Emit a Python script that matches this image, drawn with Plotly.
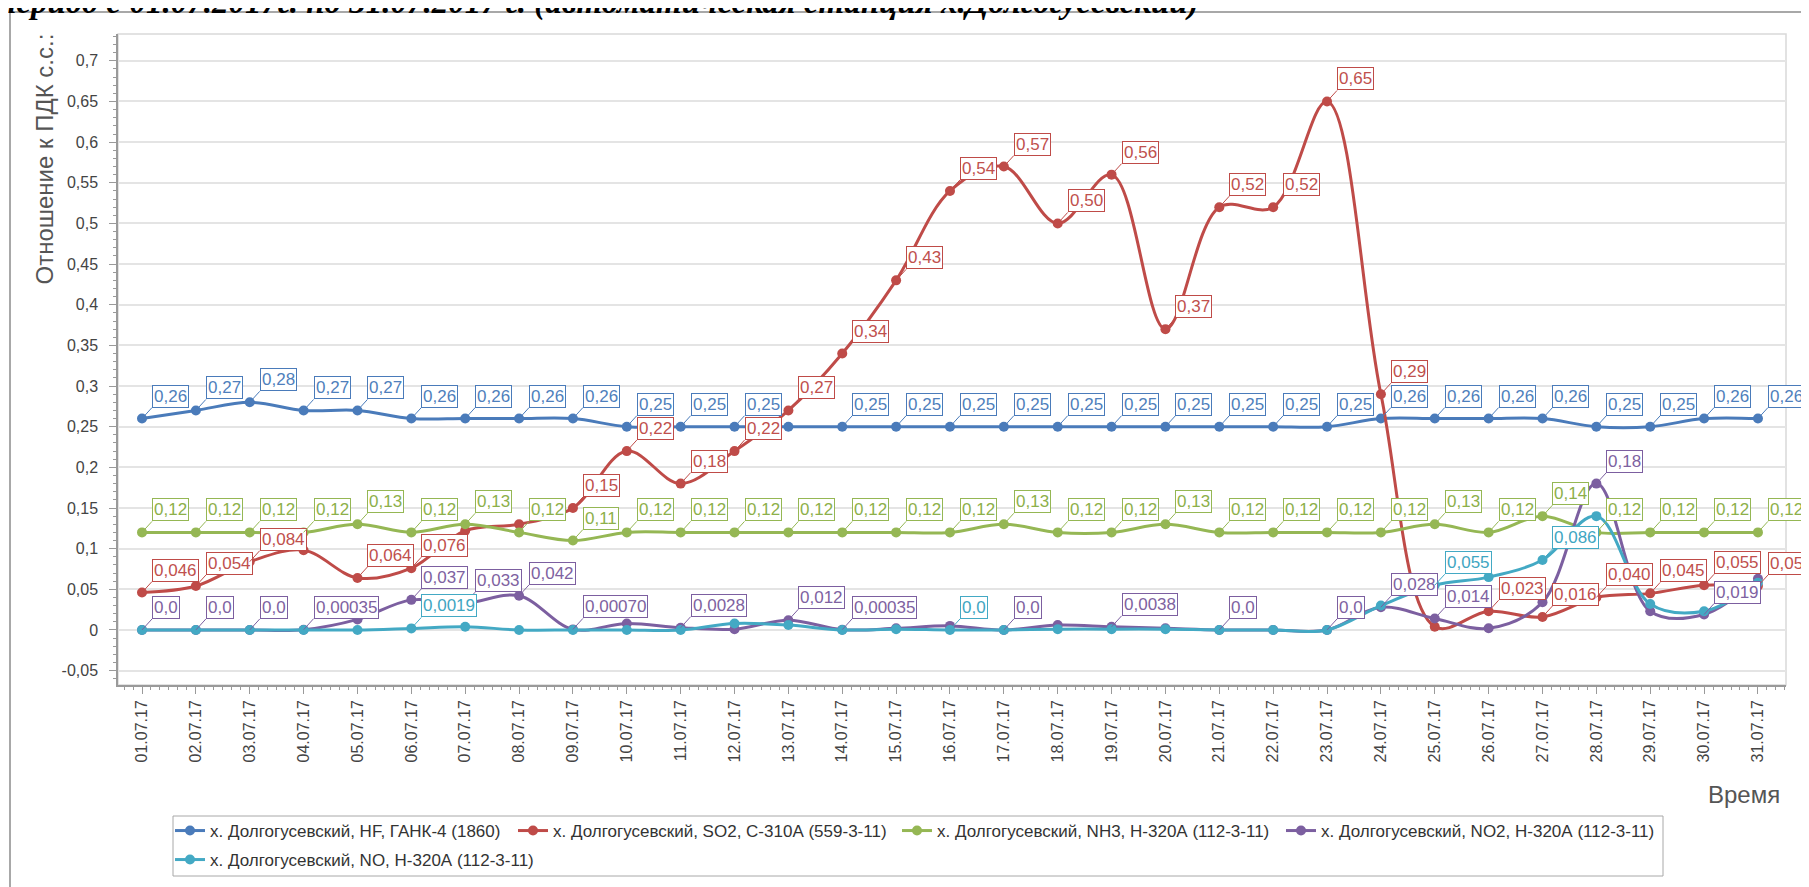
import math
import pandas as pd
import plotly.graph_objects as go

# ---------------- data ----------------
dates = pd.date_range("2017-07-01", "2017-07-31", freq="D").strftime("%Y-%m-%d").tolist()

names = [
    "х. Долгогусевский, HF, ГАНК-4 (1860)",
    "х. Долгогусевский, SO2, С-310А (559-3-11)",
    "х. Долгогусевский, NH3, Н-320А (112-3-11)",
    "х. Долгогусевский, NO2, Н-320А (112-3-11)",
    "х. Долгогусевский, NO, Н-320А (112-3-11)",
]

hf = [0.26, 0.27, 0.28, 0.27, 0.27, 0.26, 0.26, 0.26, 0.26, 0.25, 0.25, 0.25, 0.25, 0.25, 0.25, 0.25,
      0.25, 0.25, 0.25, 0.25, 0.25, 0.25, 0.25, 0.26, 0.26, 0.26, 0.26, 0.25, 0.25, 0.26, 0.26]
so2 = [0.046, 0.054, 0.084, 0.098, 0.064, 0.076, 0.122, 0.13, 0.15, 0.22, 0.18, 0.22, 0.27, 0.34, 0.43, 0.54,
       0.57, 0.50, 0.56, 0.37, 0.52, 0.52, 0.65, 0.29, 0.004, 0.023, 0.016, 0.040, 0.045, 0.055, 0.054]
nh3 = [0.12, 0.12, 0.12, 0.12, 0.13, 0.12, 0.13, 0.12, 0.11, 0.12, 0.12, 0.12, 0.12, 0.12, 0.12, 0.12,
       0.13, 0.12, 0.12, 0.13, 0.12, 0.12, 0.12, 0.12, 0.13, 0.12, 0.14, 0.12, 0.12, 0.12, 0.12]
no2 = [0.0, 0.0, 0.0, 0.00035, 0.013, 0.037, 0.033, 0.042, 0.0007, 0.008, 0.0028, 0.001, 0.012, 0.00035, 0.002, 0.005,
       0.0, 0.006, 0.0038, 0.002, 0.0, 0.0, 0.0, 0.028, 0.014, 0.002, 0.034, 0.18, 0.023, 0.019, 0.063]
no = [0.0, 0.0, 0.0, 0.0, 0.0, 0.0019, 0.004, 0.0, 0.0, 0.0, 0.0, 0.008, 0.006, 0.0, 0.001, 0.0,
      0.0, 0.001, 0.001, 0.001, 0.0, 0.0, 0.0, 0.03, 0.055, 0.065, 0.086, 0.14, 0.032, 0.023, 0.058]

# days of month whose value labels are visible in the original
hf_label_days = [d for d in range(1, 32) if d not in (13,)]
so2_label_days = [d for d in range(1, 32) if d not in (4, 7, 8, 25)]
nh3_label_days = list(range(1, 32))
no2_label_days = [1, 2, 3, 4, 6, 7, 8, 9, 11, 13, 14, 17, 19, 21, 23, 24, 25, 28, 30]
no_label_days = [6, 16, 25, 27]

ytick_vals = [-0.05, 0, 0.05, 0.1, 0.15, 0.2, 0.25, 0.3, 0.35, 0.4, 0.45, 0.5, 0.55, 0.6, 0.65, 0.7]
ytick_text = ["-0,05", "0", "0,05", "0,1", "0,15", "0,2", "0,25", "0,3", "0,35", "0,4", "0,45",
              "0,5", "0,55", "0,6", "0,65", "0,7"]

line_colors = ["#4A7BBA", "#BF4B48", "#95B754", "#7C5FA0", "#43A9C4"]
text_colors = ["#4F7FBC", "#C0504D", "#8DB04A", "#7E62A1", "#3FA6C2"]

series = [hf, so2, nh3, no2, no]
label_days = [hf_label_days, so2_label_days, nh3_label_days, no2_label_days, no_label_days]


def fmt(v):
    if v == 0:
        return "0,0"
    d = max(1, 1 - math.floor(math.log10(abs(v))))
    return f"{v:.{d}f}".replace(".", ",")


FONT = "Liberation Sans"
W, H = 1809, 887
OFF = 8                      # page body margin of the html page
ML, MR, MT, MB = 110, 31, 26, 210
PW, PH = W - ML - MR, H - MT - MB


def px(xv):   # viewport pixel -> paper x
    return (xv - OFF - ML) / PW


def py(yv):   # viewport pixel -> paper y
    return (H - MB - (yv - OFF)) / PH


legend_keys = ["legend", "legend2", "legend3", "legend4", "legend5"]

fig = go.Figure()
for name, vals, col, lk in zip(names, series, line_colors, legend_keys):
    fig.add_trace(go.Scatter(
        x=dates, y=vals, name=name, mode="lines+markers", legend=lk,
        line=dict(color=col, width=3, shape="spline", smoothing=1.0),
        marker=dict(size=10, color=col),
    ))

annotations = []
for vals, days, col, tcol in zip(series, label_days, line_colors, text_colors):
    for d in days:
        i = d - 1
        annotations.append(dict(
            x=dates[i], y=vals[i], xref="x", yref="y", text=fmt(vals[i]),
            showarrow=True, arrowhead=0, arrowwidth=1, arrowcolor=col,
            ax=10, ay=-11, xanchor="left", yanchor="bottom",
            bordercolor=col, borderwidth=1, borderpad=1, bgcolor="white",
            font=dict(family=FONT, size=17, color=tcol),
        ))

# axis titles and page header
annotations.append(dict(
    text="Отношение к ПДК с.с.:", textangle=-90, showarrow=False,
    xref="paper", yref="paper", x=px(44), y=py(32), xanchor="center", yanchor="top",
    font=dict(family=FONT, size=24, color="#555555"),
))
annotations.append(dict(
    text="Время", showarrow=False, xref="paper", yref="paper",
    x=px(1782), y=py(794), xanchor="right", yanchor="middle",
    font=dict(family=FONT, size=24, color="#555555"),
))
annotations.append(dict(
    text="период с 01.07.2017г. по 31.07.2017 г. (автоматическая станция х.Долгогусевский)",
    showarrow=False, xref="paper", yref="paper",
    x=px(-4), y=py(3), xanchor="left", yanchor="middle",
    font=dict(family="Liberation Serif", size=33, color="#000000", weight="bold", style="italic"),
))

x0 = pd.Timestamp("2017-07-01") - pd.Timedelta(hours=10.7)
x1 = pd.Timestamp("2017-07-31") + pd.Timedelta(hours=12.5)

leg_common = dict(orientation="h", xanchor="left", yanchor="middle", bgcolor="rgba(0,0,0,0)",
                  borderwidth=0, font=dict(family=FONT, size=17, color="#333333"))
legend_pos = [(170, 831), (513, 831), (897, 831), (1281, 831), (170, 860)]
legends = {}
for lk, (lx, ly) in zip(legend_keys, legend_pos):
    legends[lk] = dict(leg_common, x=px(lx), y=py(ly))

fig.update_layout(
    width=W, height=H,
    margin=dict(l=ML, r=MR, t=MT, b=MB),
    paper_bgcolor="white", plot_bgcolor="white",
    font=dict(family=FONT, color="#444444"),
    annotations=annotations,
    shapes=[
        dict(type="rect", xref="paper", yref="paper", x0=px(10), x1=px(1850), y0=py(920), y1=py(12),
             line=dict(color="#8C8C8C", width=1.5), fillcolor="rgba(0,0,0,0)", layer="below"),
        dict(type="rect", xref="paper", yref="paper", x0=0, x1=1, y0=0, y1=1,
             line=dict(color="#D9D9D9", width=1.5), fillcolor="rgba(0,0,0,0)", layer="below"),
        dict(type="rect", xref="paper", yref="paper", x0=px(173), x1=px(1663), y0=py(876), y1=py(816),
             line=dict(color="#A8A8A8", width=1), fillcolor="rgba(0,0,0,0)", layer="below"),
    ],
    xaxis=dict(
        type="date", range=[x0, x1], tick0="2017-07-01", dtick=86400000, automargin=False,
        tickformat="%d.%m.%y", tickangle=-90, ticks="outside", ticklen=7,
        tickcolor="#9A9A9A", showline=True, linecolor="#9A9A9A", linewidth=1.5,
        showgrid=False, zeroline=False,
        tickfont=dict(family=FONT, size=16, color="#444444"),
        minor=dict(dtick=4 * 3600000, ticks="outside", ticklen=3, tickcolor="#9A9A9A", showgrid=False),
    ),
    yaxis=dict(
        range=[-0.0677, 0.733], tickmode="array", tickvals=ytick_vals, ticktext=ytick_text,
        ticks="outside", ticklen=7, tickcolor="#9A9A9A", showline=True, automargin=False,
        linecolor="#9A9A9A", linewidth=1.5, showgrid=True, gridcolor="#E4E4E4", gridwidth=1.5,
        zeroline=False, ticklabelstandoff=8,
        tickfont=dict(family=FONT, size=16, color="#444444"),
        minor=dict(dtick=0.01, tick0=0, ticks="outside", ticklen=3, tickcolor="#9A9A9A", showgrid=False),
    ),
    showlegend=True,
    **legends,
)

fig.write_html("out.html")
